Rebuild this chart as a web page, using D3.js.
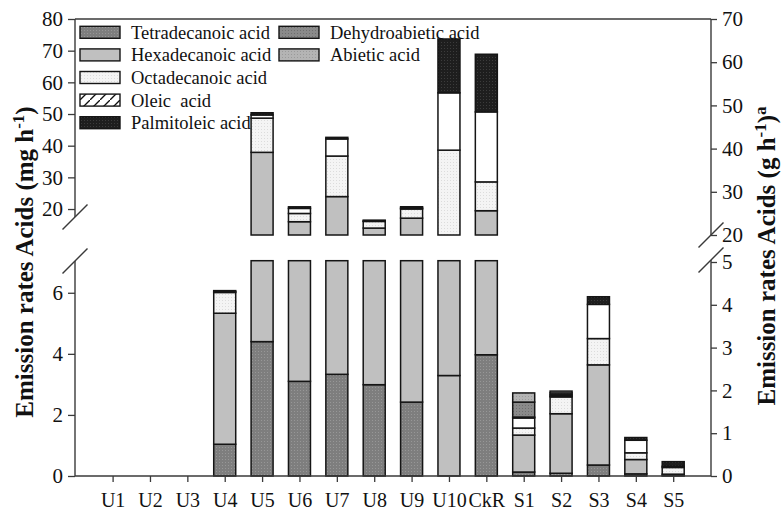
<!DOCTYPE html>
<html>
<head>
<meta charset="utf-8">
<script src="https://cdn.jsdelivr.net/npm/d3@7"></script>
<style>
  html, body { margin: 0; padding: 0; background: #fff; }
  svg { display: block; font-family: "Liberation Serif", "Times New Roman", serif; }
</style>
</head>
<body>
<svg id="chart" width="781" height="515"></svg>
<script>
// ---- data -------------------------------------------------------------
const categories = ["U1","U2","U3","U4","U5","U6","U7","U8","U9","U10","CkR","S1","S2","S3","S4","S5"];
const seriesKeys = ["tetra","hexa","octa","oleic","palm","dehydro","abietic"];
const seriesNames = ["Tetradecanoic acid","Hexadecanoic acid","Octadecanoic acid","Oleic  acid","Palmitoleic acid","Dehydroabietic acid","Abietic acid"];

const tetradecanoic  = [0,0,0,1.04,4.40,3.10,3.33,2.99,2.42,3.29,3.97,0.13,0.09,0.36,0.07,0.02];
const hexadecanoic   = [0,0,0,4.29,33.5,12.9,20.6,11.0,14.7,6.70,15.5,1.21,1.95,3.28,0.47,0.04];
const octadecanoic   = [0,0,0,0.68,10.8,2.60,12.8,2.10,2.90,28.6,9.10,0.23,0.55,0.86,0.22,0.22];
const oleicAcid      = [0,0,0,0.03,1.00,1.60,5.40,0.10,0.30,18.1,22.1,0.33,0.03,1.12,0.41,0.04];
const palmitoleic    = [0,0,0,0.03,0.70,0.50,0.50,0.30,0.40,17.0,18.2,0.03,0.04,0.25,0.09,0.15];
const dehydroabietic = [0,0,0,0,0,0,0,0,0,0,0,0.49,0.06,0,0,0];
const abieticAcid    = [0,0,0,0,0,0,0,0,0,0,0,0.30,0.06,0,0,0];

const leftTicksUpper  = [20,30,40,50,60,70,80];
const leftTicksLower  = [0,2,4,6];
const rightTicksUpper = [20,30,40,50,60,70];
const rightTicksLower = [0,1,2,3,4,5];

// ---- layout -----------------------------------------------------------
const svg = d3.select("#chart");
const plotL = 75, plotR = 711, plotT = 19, plotB = 476;
const barW = 22;

const x = d3.scalePoint().domain(categories).range([112.6, 673.2]);
// left axis, two panels of the broken axis (mg h-1)
const yUp = d3.scaleLinear().domain([11.8, 80]).range([235, plotT]);
const yLo = d3.scaleLinear().domain([0, 7.05]).range([plotB, 260.7]);
// right axis, two panels (g h-1)
const yRUp = d3.scaleLinear().domain([20, 70]).range([235, plotT]);
const yRLo = d3.scaleLinear().domain([0, 5]).range([plotB, 262]);

// ---- fills ------------------------------------------------------------
const defs = svg.append("defs");
function dotPattern(id, base, dot) {
  const p = defs.append("pattern").attr("id", id)
    .attr("width", 3).attr("height", 3).attr("patternUnits", "userSpaceOnUse");
  p.append("rect").attr("width", 3).attr("height", 3).attr("fill", base);
  p.append("rect").attr("width", 1).attr("height", 1).attr("fill", dot);
}
dotPattern("p-tetra", "#7e7e7e", "#979797");
dotPattern("p-octa", "#f4f4f4", "#dcdcdc");
dotPattern("p-palm", "#1e1e1e", "#3c3c3c");
dotPattern("p-dehydro", "#8a8a8a", "#6e6e6e");
dotPattern("p-abietic", "#b4b4b4", "#9a9a9a");
const hatch = defs.append("pattern").attr("id", "p-hatch")
  .attr("width", 10).attr("height", 10).attr("patternUnits", "userSpaceOnUse");
hatch.append("rect").attr("width", 10).attr("height", 10).attr("fill", "#fff");
hatch.append("path").attr("d", "M-2,12 L12,-2").attr("stroke", "#111").attr("stroke-width", 1.3);

const fills = {
  tetra: "url(#p-tetra)", hexa: "#c0c0c0", octa: "url(#p-octa)", oleic: "#ffffff",
  palm: "url(#p-palm)", dehydro: "url(#p-dehydro)", abietic: "url(#p-abietic)"
};
const legendFills = Object.assign({}, fills, { oleic: "url(#p-hatch)" });
// U10's base segment is shaded like the hexadecanoic layer
const fillOverride = { U10: { tetra: "hexa" } };

// ---- stacked bars -----------------------------------------------------
const rows = categories.map((c, i) => ({
  cat: c, tetra: tetradecanoic[i], hexa: hexadecanoic[i], octa: octadecanoic[i],
  oleic: oleicAcid[i], palm: palmitoleic[i], dehydro: dehydroabietic[i], abietic: abieticAcid[i]
}));
const stacked = d3.stack().keys(seriesKeys)(rows);

function drawPanel(scale) {
  const [lo, hi] = scale.domain();
  const g = svg.append("g");
  stacked.forEach(layer => {
    layer.forEach(d => {
      const a = Math.max(d[0], lo), b = Math.min(d[1], hi);
      if (!(d[1] > d[0]) || b <= a) return;
      const cat = d.data.cat;
      let key = layer.key;
      if (fillOverride[cat] && fillOverride[cat][key]) key = fillOverride[cat][key];
      g.append("rect")
        .attr("x", x(cat) - barW / 2)
        .attr("y", scale(b))
        .attr("width", barW)
        .attr("height", scale(a) - scale(b))
        .attr("fill", fills[key])
        .attr("stroke", "#151515")
        .attr("stroke-width", 1.5);
    });
  });
}
drawPanel(yLo);
drawPanel(yUp);

// ---- axes -------------------------------------------------------------
const axisColor = "#3a3a3a";
function styleAxis(g) {
  g.selectAll("path.domain").remove();
  g.selectAll(".tick line").attr("stroke", axisColor).attr("stroke-width", 1.3);
  g.selectAll(".tick text").attr("font-size", 21).attr("fill", "#111")
    .attr("font-family", "Liberation Serif, serif");
}
svg.append("g").attr("transform", `translate(${plotL},0)`)
  .call(d3.axisLeft(yUp).tickValues(leftTicksUpper).tickSize(7).tickPadding(5).tickFormat(d3.format("d")))
  .call(styleAxis);
svg.append("g").attr("transform", `translate(${plotL},0)`)
  .call(d3.axisLeft(yLo).tickValues(leftTicksLower).tickSize(7).tickPadding(5).tickFormat(d3.format("d")))
  .call(styleAxis);
svg.append("g").attr("transform", `translate(${plotR},0)`)
  .call(d3.axisRight(yRUp).tickValues(rightTicksUpper).tickSize(6).tickPadding(5).tickFormat(d3.format("d")))
  .call(styleAxis);
svg.append("g").attr("transform", `translate(${plotR},0)`)
  .call(d3.axisRight(yRLo).tickValues(rightTicksLower).tickSize(6).tickPadding(5).tickFormat(d3.format("d")))
  .call(styleAxis);
const xAxis = svg.append("g").attr("transform", `translate(0,${plotB})`)
  .call(d3.axisBottom(x).tickSize(6).tickPadding(7))
  .call(styleAxis);
xAxis.selectAll(".tick text").attr("font-size", 20).attr("dy", "0.9em");

// axis lines, interrupted at the break
const lines = svg.append("g").attr("stroke", axisColor).attr("stroke-width", 1.4).attr("fill", "none");
lines.append("line").attr("x1", plotL).attr("x2", plotR).attr("y1", plotT).attr("y2", plotT);
lines.append("line").attr("x1", plotL).attr("x2", plotR).attr("y1", plotB).attr("y2", plotB);
lines.append("line").attr("x1", plotL).attr("x2", plotL).attr("y1", plotT).attr("y2", 217);
lines.append("line").attr("x1", plotL).attr("x2", plotL).attr("y1", 261).attr("y2", plotB);
lines.append("line").attr("x1", plotR).attr("x2", plotR).attr("y1", plotT).attr("y2", 235);
lines.append("line").attr("x1", plotR).attr("x2", plotR).attr("y1", 260).attr("y2", plotB);
// break marks
const slash = (cx, cy) => `M${cx - 12.5},${cy + 12.5}L${cx + 12.5},${cy - 12.5}`;
lines.append("path").attr("d", slash(plotL, 217));
lines.append("path").attr("d", slash(plotL, 261));
lines.append("path").attr("d", slash(plotR, 235));
lines.append("path").attr("d", slash(plotR, 260));

// ---- axis titles ------------------------------------------------------
function title(xPos, yPos, unit, extraSup) {
  const t = svg.append("text")
    .attr("transform", `translate(${xPos},${yPos}) rotate(-90)`)
    .attr("text-anchor", "middle").attr("font-weight", "bold").attr("font-size", 25).attr("fill", "#111");
  t.append("tspan").text(`Emission rates Acids (${unit} h`);
  t.append("tspan").attr("dy", -9).attr("font-size", 17).text("-1");
  t.append("tspan").attr("dy", 9).text(")");
  if (extraSup) t.append("tspan").attr("dy", -9).attr("font-size", 17).text(extraSup);
}
title(33, 262, "mg", null);
title(775, 256, "g", "a");

// ---- legend -----------------------------------------------------------
const legendPos = [
  { col: 0, row: 0 }, { col: 0, row: 1 }, { col: 0, row: 2 }, { col: 0, row: 3 }, { col: 0, row: 4 },
  { col: 1, row: 0 }, { col: 1, row: 1 }
];
const colX = [80, 279];
const legend = svg.append("g");
seriesKeys.forEach((k, i) => {
  const p = legendPos[i];
  const cy = 32.3 + p.row * 22.6;
  legend.append("rect")
    .attr("x", colX[p.col]).attr("y", cy - 6).attr("width", 40).attr("height", 12)
    .attr("fill", legendFills[k]).attr("stroke", "#151515").attr("stroke-width", 1.4);
  legend.append("text")
    .attr("x", colX[p.col] + 51).attr("y", cy + 6.5)
    .attr("font-size", 18.5).attr("fill", "#111")
    .style("white-space", "pre")
    .text(seriesNames[i]);
});
</script>
</body>
</html>
